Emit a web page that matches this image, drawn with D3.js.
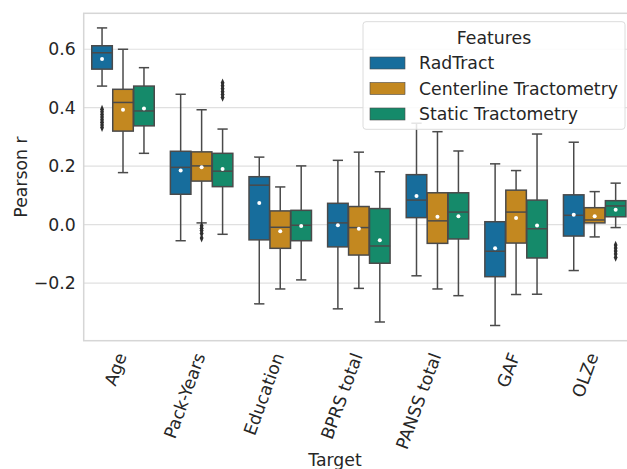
<!DOCTYPE html>
<html>
<head>
<meta charset="utf-8">
<script src="https://cdn.jsdelivr.net/npm/d3@7"></script>
<style>
  body { margin: 0; background: #fff; }
  svg { display: block; font-family: "DejaVu Sans", sans-serif; }
</style>
</head>
<body>
<div id="chart"></div>
<script>
// categories and groups
const targets = ["Age", "Pack-Years", "Education", "BPRS total", "PANSS total", "GAF", "OLZe"];
const features = ["RadTract", "Centerline Tractometry", "Static Tractometry"];

// box stats per target: [whiskerLow, q1, median, q3, whiskerHigh, mean]
const radTract = [
  [0.474, 0.532, 0.588, 0.612, 0.673, 0.567],
  [-0.055, 0.104, 0.196, 0.251, 0.446, 0.185],
  [-0.271, -0.052, 0.135, 0.164, 0.231, 0.074],
  [-0.288, -0.076, 0.006, 0.073, 0.220, -0.002],
  [-0.175, 0.024, 0.084, 0.171, 0.347, 0.098],
  [-0.345, -0.178, -0.091, 0.010, 0.208, -0.081],
  [-0.157, -0.039, 0.032, 0.102, 0.282, 0.034]
];
const centerline = [
  [0.178, 0.320, 0.418, 0.463, 0.600, 0.393],
  [0.006, 0.149, 0.201, 0.249, 0.393, 0.196],
  [-0.220, -0.081, -0.009, 0.047, 0.129, -0.023],
  [-0.218, -0.104, -0.010, 0.062, 0.248, -0.014],
  [-0.220, -0.064, 0.013, 0.109, 0.318, 0.027],
  [-0.239, -0.063, 0.043, 0.118, 0.185, 0.023],
  [-0.042, 0.006, 0.016, 0.058, 0.113, 0.029]
];
const staticTract = [
  [0.244, 0.338, 0.389, 0.474, 0.537, 0.397],
  [-0.033, 0.130, 0.183, 0.244, 0.327, 0.190],
  [-0.189, -0.055, -0.002, 0.049, 0.201, -0.005],
  [-0.333, -0.132, -0.073, 0.055, 0.181, -0.053],
  [-0.243, -0.049, 0.043, 0.109, 0.252, 0.029],
  [-0.238, -0.114, -0.014, 0.084, 0.310, -0.003],
  [-0.010, 0.027, 0.064, 0.082, 0.142, 0.051]
];

// outliers: [featureIndex, targetIndex, values]
const outliers = [
  [0, 0, [0.395, 0.386, 0.377, 0.368, 0.359, 0.350, 0.341, 0.332]],
  [1, 1, [-0.004, -0.012, -0.020, -0.030, -0.046]],
  [2, 1, [0.485, 0.475, 0.465, 0.455, 0.445, 0.435]],
  [2, 6, [-0.070, -0.080, -0.090, -0.100, -0.112]]
];

const yTicks = [-0.2, 0.0, 0.2, 0.4, 0.6];
const colors = ["#176d9c", "#c38820", "#158a6a"];

const W = 627, H = 469;
const plot = {left: 83.7, right: 634, top: 13.3, bottom: 340.7};
const textColor = "#262626";
const lineColor = "#4a4a4a";
const fontSize = 17.3;

const svg = d3.select("#chart").append("svg")
  .attr("width", W).attr("height", H);

const x = d3.scaleBand().domain(targets).range([plot.left, plot.right]);
const y = d3.scaleLinear().domain([-0.397, 0.723]).range([plot.bottom, plot.top]);

// hue positions: seaborn uses 0.8 of the band, split in three
const hueWidth = x.bandwidth() * 0.8 / 3;
const hueOffset = i => (i - 1) * hueWidth;
const boxW = hueWidth * 0.98;

// grid
svg.append("g").selectAll("line").data(yTicks).join("line")
  .attr("x1", plot.left).attr("x2", plot.right)
  .attr("y1", d => y(d)).attr("y2", d => y(d))
  .attr("stroke", "#e0e0e0").attr("stroke-width", 1.2);

// frame
svg.append("rect")
  .attr("x", plot.left).attr("y", plot.top)
  .attr("width", plot.right - plot.left).attr("height", plot.bottom - plot.top)
  .attr("fill", "none").attr("stroke", "#d6d6d6").attr("stroke-width", 1.5);

// y tick labels
svg.append("g").selectAll("text").data(yTicks).join("text")
  .attr("x", plot.left - 8).attr("y", d => y(d))
  .attr("dy", "0.36em")
  .attr("text-anchor", "end")
  .attr("font-size", fontSize).attr("fill", textColor)
  .text(d => d3.format(".1f")(d).replace("-", "\u2212"));

// x tick labels
svg.append("g").selectAll("text").data(targets).join("text")
  .attr("transform", d => `translate(${x(d) + x.bandwidth() / 2 + 4},${plot.bottom + 15}) rotate(-70)`)
  .attr("text-anchor", "end")
  .attr("font-size", fontSize).attr("fill", textColor)
  .text(d => d);

// axis titles
svg.append("text")
  .attr("transform", `translate(26.5,${(plot.top + plot.bottom) / 2}) rotate(-90)`)
  .attr("text-anchor", "middle")
  .attr("font-size", fontSize).attr("fill", textColor)
  .text("Pearson r");

svg.append("text")
  .attr("x", 335).attr("y", 466)
  .attr("text-anchor", "middle")
  .attr("font-size", fontSize).attr("fill", textColor)
  .text("Target");

// boxes
const allStats = [radTract, centerline, staticTract];
allStats.forEach((stats, fi) => {
  const g = svg.append("g");
  stats.forEach((s, ti) => {
    const cx = x(targets[ti]) + x.bandwidth() / 2 + hueOffset(fi);
    const [lo, q1, med, q3, hi, mean] = s;
    // whiskers
    g.append("line").attr("x1", cx).attr("x2", cx).attr("y1", y(q3)).attr("y2", y(hi))
      .attr("stroke", lineColor).attr("stroke-width", 1.5);
    g.append("line").attr("x1", cx).attr("x2", cx).attr("y1", y(q1)).attr("y2", y(lo))
      .attr("stroke", lineColor).attr("stroke-width", 1.5);
    // caps
    [lo, hi].forEach(v => {
      g.append("line").attr("x1", cx - boxW / 4).attr("x2", cx + boxW / 4)
        .attr("y1", y(v)).attr("y2", y(v))
        .attr("stroke", lineColor).attr("stroke-width", 1.5);
    });
    // box
    g.append("rect")
      .attr("x", cx - boxW / 2).attr("y", y(q3))
      .attr("width", boxW).attr("height", y(q1) - y(q3))
      .attr("fill", colors[fi]).attr("stroke", lineColor).attr("stroke-width", 1.5);
    // median
    g.append("line").attr("x1", cx - boxW / 2).attr("x2", cx + boxW / 2)
      .attr("y1", y(med)).attr("y2", y(med))
      .attr("stroke", lineColor).attr("stroke-width", 1.5);
    // mean
    g.append("circle").attr("cx", cx).attr("cy", y(mean)).attr("r", 2)
      .attr("fill", "#fff");
  });
});

// outliers (diamonds)
const diamond = d3.symbol().type(d3.symbolDiamond).size(22);
outliers.forEach(([fi, ti, vals]) => {
  const cx = x(targets[ti]) + x.bandwidth() / 2 + hueOffset(fi);
  svg.append("g").selectAll("path").data(vals).join("path")
    .attr("d", diamond)
    .attr("transform", v => `translate(${cx},${y(v)}) scale(0.75,1)`)
    .attr("fill", "#2f2f2f");
});

// legend
const lg = svg.append("g");
lg.append("rect")
  .attr("x", 363).attr("y", 21.7).attr("width", 262).attr("height", 107.6)
  .attr("rx", 3)
  .attr("fill", "#fff").attr("fill-opacity", 0.85)
  .attr("stroke", "#dcdcdc").attr("stroke-width", 1);
lg.append("text")
  .attr("x", 494).attr("y", 43.5)
  .attr("text-anchor", "middle")
  .attr("font-size", fontSize).attr("fill", textColor)
  .text("Features");
features.forEach((f, i) => {
  const cy = 63 + i * 25.5;
  lg.append("rect")
    .attr("x", 370).attr("y", cy - 6).attr("width", 35).attr("height", 12)
    .attr("fill", colors[i]).attr("stroke", lineColor).attr("stroke-width", 0.6);
  lg.append("text")
    .attr("x", 419).attr("y", cy + 6)
    .attr("font-size", fontSize).attr("fill", textColor)
    .text(f);
});
</script>
</body>
</html>
